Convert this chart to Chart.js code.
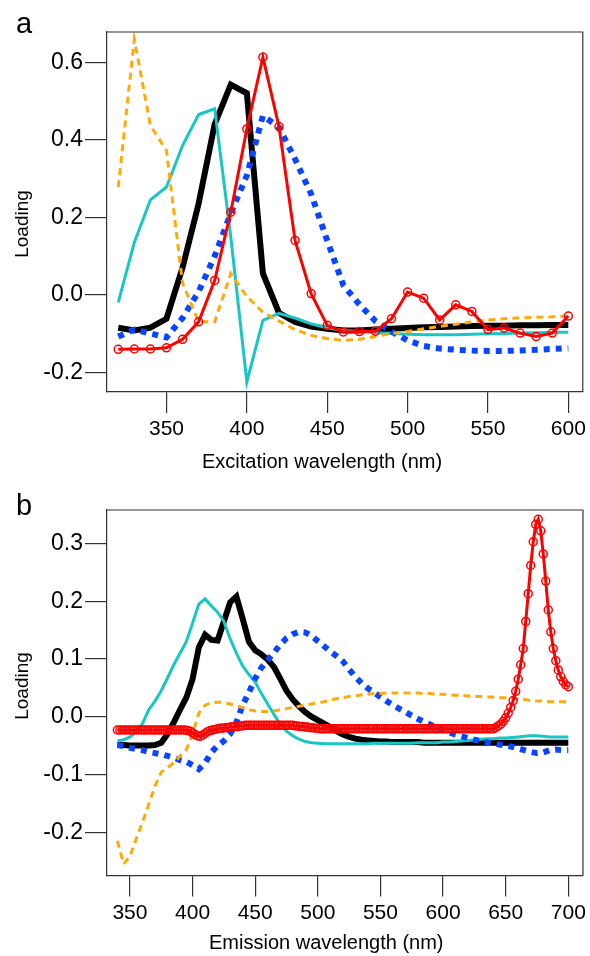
<!DOCTYPE html>
<html>
<head>
<meta charset="utf-8">
<script src="https://cdn.jsdelivr.net/npm/chart.js@4.4.1/dist/chart.umd.min.js"></script>
<style>
  body { margin: 0; background: #fff; }
  #wrap { position: relative; width: 590px; height: 956px; font-family: 'Liberation Sans', Arial, sans-serif; color: #000; }
  #wrap canvas { position: absolute; left: 0; }
  .panel { position: absolute; font-size: 29px; line-height: 29px; }
  .ytitle { position: absolute; font-size: 19px; line-height: 19px; white-space: nowrap; transform: translate(-50%, -50%) rotate(-90deg); }
  .xtitle { position: absolute; font-size: 20px; line-height: 20px; white-space: nowrap; }
</style>
</head>
<body>
<div id="wrap">
  <canvas id="excChart" width="590" height="478" style="top:0"></canvas>
  <canvas id="emChart" width="590" height="478" style="top:478px"></canvas>
  <div class="panel" style="left:16px;top:9px">a</div>
  <div class="panel" style="left:16px;top:491px">b</div>
  <div class="ytitle" style="left:21px;top:224px">Loading</div>
  <div class="ytitle" style="left:21px;top:686px">Loading</div>
  <div class="xtitle" style="left:202px;top:451px">Excitation wavelength (nm)</div>
  <div class="xtitle" style="left:209px;top:932px">Emission wavelength (nm)</div>
</div>
<script>
// ---- excitation loadings (panel a), 10 nm steps ----
const exWavelength = [320, 330, 340, 350, 360, 370, 380, 390, 400, 410,
                      420, 430, 440, 450, 460, 470, 480, 490, 500, 510,
                      520, 530, 540, 550, 560, 570, 580, 590, 600];
const exBlack  = [-0.085, -0.092, -0.085, -0.062, 0.070, 0.235, 0.440, 0.542, 0.520, 0.055,
                  -0.047, -0.070, -0.082, -0.088, -0.092, -0.092, -0.090, -0.088, -0.086, -0.084,
                  -0.083, -0.082, -0.081, -0.080, -0.080, -0.079, -0.079, -0.078, -0.078];
const exCyan   = [-0.020, 0.135, 0.245, 0.278, 0.385, 0.465, 0.480, 0.150, -0.225, -0.066,
                  -0.048, -0.060, -0.075, -0.085, -0.092, -0.095, -0.098, -0.100, -0.102, -0.103,
                  -0.103, -0.103, -0.102, -0.101, -0.100, -0.099, -0.098, -0.097, -0.097];
const exBlue   = [-0.108, -0.090, -0.100, -0.110, -0.060, 0.008, 0.100, 0.210, 0.308, 0.462,
                  0.432, 0.350, 0.260, 0.140, 0.025, -0.025, -0.068, -0.095, -0.118, -0.132,
                  -0.139, -0.142, -0.144, -0.145, -0.145, -0.144, -0.142, -0.140, -0.138];
const exOrange = [0.278, 0.659, 0.437, 0.372, 0.030, -0.070, -0.070, 0.055, -0.005, -0.045,
                  -0.068, -0.090, -0.105, -0.113, -0.118, -0.115, -0.108, -0.100, -0.095, -0.088,
                  -0.082, -0.076, -0.070, -0.065, -0.062, -0.060, -0.058, -0.057, -0.055];
const exRed    = [-0.141, -0.140, -0.140, -0.137, -0.115, -0.070, 0.037, 0.213, 0.428, 0.613,
                  0.434, 0.140, 0.003, -0.079, -0.096, -0.095, -0.094, -0.062, 0.007, -0.009,
                  -0.065, -0.026, -0.043, -0.090, -0.086, -0.099, -0.108, -0.099, -0.055];

// ---- emission loadings (panel b), 5 nm steps ----
const emWavelength = [340, 345, 350, 355, 360, 365, 370, 375, 380, 385,
                      390, 395, 400, 405, 410, 415, 420, 425, 430, 435,
                      440, 445, 450, 455, 460, 465, 470, 475, 480, 485,
                      490, 495, 500, 505, 510, 515, 520, 525, 530, 535,
                      540, 545, 550, 555, 560, 565, 570, 575, 580, 585,
                      590, 595, 600, 605, 610, 615, 620, 625, 630, 635,
                      640, 645, 650, 655, 660, 665, 670, 675, 680, 685,
                      690, 695, 700];
const emBlack  = [-0.049, -0.049, -0.050, -0.050, -0.050, -0.050, -0.049, -0.045, -0.030, -0.010,
                  0.012, 0.033, 0.065, 0.120, 0.142, 0.133, 0.132, 0.165, 0.198, 0.208,
                  0.170, 0.130, 0.115, 0.108, 0.099, 0.086, 0.066, 0.045, 0.030, 0.018,
                  0.008, 0.000, -0.006, -0.012, -0.018, -0.025, -0.031, -0.035, -0.038, -0.040,
                  -0.041, -0.042, -0.043, -0.043, -0.044, -0.044, -0.044, -0.044, -0.044, -0.045,
                  -0.045, -0.045, -0.045, -0.045, -0.045, -0.045, -0.045, -0.045, -0.045, -0.045,
                  -0.045, -0.045, -0.045, -0.045, -0.045, -0.045, -0.045, -0.045, -0.045, -0.045,
                  -0.045, -0.045, -0.045];
const emCyan   = [-0.042, -0.040, -0.035, -0.026, -0.012, 0.012, 0.027, 0.045, 0.067, 0.090,
                  0.110, 0.130, 0.162, 0.195, 0.204, 0.192, 0.181, 0.165, 0.135, 0.110,
                  0.088, 0.073, 0.060, 0.040, 0.022, 0.004, -0.013, -0.025, -0.033, -0.039,
                  -0.043, -0.045, -0.046, -0.047, -0.047, -0.047, -0.047, -0.047, -0.047, -0.047,
                  -0.047, -0.046, -0.046, -0.046, -0.046, -0.046, -0.046, -0.046, -0.045, -0.045,
                  -0.045, -0.045, -0.044, -0.044, -0.043, -0.042, -0.041, -0.040, -0.039, -0.038,
                  -0.038, -0.037, -0.037, -0.036, -0.035, -0.034, -0.033, -0.033, -0.034, -0.035,
                  -0.035, -0.035, -0.035];
const emBlue   = [-0.049, -0.051, -0.054, -0.056, -0.058, -0.061, -0.063, -0.065, -0.068, -0.071,
                  -0.075, -0.078, -0.084, -0.091, -0.080, -0.062, -0.050, -0.042, -0.030, -0.010,
                  0.020, 0.042, 0.066, 0.085, 0.098, 0.111, 0.125, 0.136, 0.143, 0.147,
                  0.146, 0.140, 0.131, 0.122, 0.113, 0.105, 0.096, 0.082, 0.069, 0.058,
                  0.049, 0.042, 0.034, 0.027, 0.020, 0.014, 0.008, 0.002, -0.004, -0.009,
                  -0.014, -0.019, -0.023, -0.027, -0.031, -0.034, -0.037, -0.040, -0.042, -0.044,
                  -0.046, -0.048, -0.050, -0.052, -0.055, -0.058, -0.061, -0.063, -0.062, -0.058,
                  -0.057, -0.058, -0.058];
const emOrange = [-0.215, -0.255, -0.242, -0.212, -0.183, -0.152, -0.120, -0.096, -0.088, -0.080,
                  -0.068, -0.057, -0.030, 0.006, 0.020, 0.024, 0.025, 0.025, 0.022, 0.019,
                  0.016, 0.012, 0.010, 0.009, 0.009, 0.010, 0.012, 0.014, 0.016, 0.018,
                  0.020, 0.022, 0.024, 0.026, 0.029, 0.031, 0.033, 0.035, 0.036, 0.038,
                  0.039, 0.040, 0.040, 0.041, 0.041, 0.041, 0.041, 0.041, 0.041, 0.040,
                  0.040, 0.039, 0.039, 0.038, 0.037, 0.037, 0.036, 0.035, 0.035, 0.034,
                  0.034, 0.033, 0.033, 0.032, 0.031, 0.030, 0.028, 0.027, 0.027, 0.026,
                  0.026, 0.026, 0.026];

// red component is sampled every 2 nm (markers on every sample)
const emRedWavelength = [340, 342, 344, 346, 348, 350, 352, 354, 356, 358,
                         360, 362, 364, 366, 368, 370, 372, 374, 376, 378,
                         380, 382, 384, 386, 388, 390, 392, 394, 396, 398,
                         400, 402, 404, 406, 408, 410, 412, 414, 416, 418,
                         420, 422, 424, 426, 428, 430, 432, 434, 436, 438,
                         440, 442, 444, 446, 448, 450, 452, 454, 456, 458,
                         460, 462, 464, 466, 468, 470, 472, 474, 476, 478,
                         480, 482, 484, 486, 488, 490, 492, 494, 496, 498,
                         500, 502, 504, 506, 508, 510, 512, 514, 516, 518,
                         520, 522, 524, 526, 528, 530, 532, 534, 536, 538,
                         540, 542, 544, 546, 548, 550, 552, 554, 556, 558,
                         560, 562, 564, 566, 568, 570, 572, 574, 576, 578,
                         580, 582, 584, 586, 588, 590, 592, 594, 596, 598,
                         600, 602, 604, 606, 608, 610, 612, 614, 616, 618,
                         620, 622, 624, 626, 628, 630, 632, 634, 636, 638,
                         640, 642, 644, 646, 648, 650, 652, 654, 656, 658,
                         660, 662, 664, 666, 668, 670, 672, 674, 676, 678,
                         680, 682, 684, 686, 688, 690, 692, 694, 696, 698,
                         700];
const emRed = [-0.023, -0.023, -0.023, -0.023, -0.023, -0.023, -0.023, -0.023, -0.023, -0.023,
               -0.023, -0.023, -0.023, -0.023, -0.023, -0.023, -0.023, -0.023, -0.023, -0.023,
               -0.023, -0.023, -0.023, -0.023, -0.023, -0.023, -0.023, -0.023, -0.024, -0.025,
               -0.028, -0.031, -0.033, -0.034, -0.032, -0.029, -0.026, -0.024, -0.023, -0.022,
               -0.021, -0.020, -0.020, -0.019, -0.019, -0.018, -0.018, -0.017, -0.017, -0.016,
               -0.016, -0.015, -0.015, -0.015, -0.015, -0.015, -0.015, -0.015, -0.015, -0.015,
               -0.015, -0.015, -0.015, -0.015, -0.015, -0.015, -0.015, -0.015, -0.015, -0.015,
               -0.015, -0.016, -0.016, -0.017, -0.017, -0.018, -0.018, -0.019, -0.019, -0.020,
               -0.020, -0.021, -0.021, -0.021, -0.021, -0.021, -0.021, -0.021, -0.021, -0.021,
               -0.021, -0.021, -0.021, -0.021, -0.021, -0.021, -0.021, -0.021, -0.021, -0.021,
               -0.021, -0.021, -0.021, -0.021, -0.021, -0.021, -0.021, -0.021, -0.021, -0.021,
               -0.021, -0.021, -0.021, -0.021, -0.021, -0.021, -0.021, -0.021, -0.021, -0.021,
               -0.021, -0.021, -0.021, -0.021, -0.021, -0.021, -0.021, -0.021, -0.021, -0.021,
               -0.021, -0.021, -0.021, -0.021, -0.021, -0.021, -0.021, -0.021, -0.021, -0.021,
               -0.021, -0.021, -0.021, -0.021, -0.021, -0.021, -0.021, -0.021, -0.021, -0.021,
               -0.021, -0.019, -0.016, -0.013, -0.008, -0.002, 0.006, 0.016, 0.028, 0.044,
               0.065, 0.090, 0.118, 0.165, 0.213, 0.262, 0.303, 0.333, 0.342, 0.322,
               0.282, 0.235, 0.185, 0.147, 0.118, 0.097, 0.081, 0.069, 0.061, 0.055,
               0.052];

// tick positions
const exTicksX = [350, 400, 450, 500, 550, 600];
const exTicksY = [-0.2, 0.0, 0.2, 0.4, 0.6];
const emTicksX = [350, 400, 450, 500, 550, 600, 650, 700];
const emTicksY = [-0.2, -0.1, 0.0, 0.1, 0.2, 0.3];

const FONT = "'Liberation Sans', Arial, sans-serif";
const AXIS_COLOR = '#333';
const C_BLACK = '#000000';
const C_CYAN = '#19C6C6';
const C_BLUE = '#0A46FF';
const C_ORANGE = '#FFA90A';
const C_RED = '#FF0000';

function xy(xs, ys) {
    return xs.map((x, i) => ({ x: x, y: ys[i] }));
}

// draws the top and right sides of the plot box
const boxFrame = {
    id: 'boxFrame',
    afterDatasetsDraw(chart) {
        const { ctx, chartArea: a } = chart;
        ctx.save();
        ctx.strokeStyle = AXIS_COLOR;
        ctx.lineWidth = 1.2;
        ctx.beginPath();
        ctx.moveTo(a.left, a.top);
        ctx.lineTo(a.right, a.top);
        ctx.lineTo(a.right, a.bottom);
        ctx.stroke();
        ctx.restore();
    }
};

function buildDatasets(xs, black, cyan, blue, orange, redXs, red) {
    return [
        { data: xy(redXs, red), borderColor: C_RED, borderWidth: 3, pointRadius: 4,
          pointBorderWidth: 1.5, pointBackgroundColor: 'rgba(0,0,0,0)', pointBorderColor: C_RED, order: 0 },
        { data: xy(xs, orange), borderColor: C_ORANGE, borderWidth: 3, borderDash: [7, 5], pointRadius: 0, order: 1 },
        { data: xy(xs, blue), borderColor: C_BLUE, borderWidth: 6, borderDash: [6, 6], pointRadius: 0, order: 2 },
        { data: xy(xs, cyan), borderColor: C_CYAN, borderWidth: 3, pointRadius: 0, order: 3 },
        { data: xy(xs, black), borderColor: C_BLACK, borderWidth: 6, pointRadius: 0, order: 4 }
    ];
}

function buildOptions(cfg) {
    return {
        responsive: false,
        animation: false,
        devicePixelRatio: 1,
        layout: { padding: { top: cfg.padTop, right: 5, left: 0, bottom: 0 } },
        plugins: { legend: { display: false }, tooltip: { enabled: false } },
        elements: { line: { tension: 0, borderCapStyle: 'butt', borderJoinStyle: 'miter' } },
        scales: {
            x: {
                type: 'linear',
                min: cfg.xMin,
                max: cfg.xMax,
                afterBuildTicks: s => { s.ticks = cfg.xTicks.map(v => ({ value: v })); },
                afterFit: s => { s.height = cfg.xAxisHeight; },
                grid: { drawOnChartArea: false, drawTicks: true, tickLength: 21, color: AXIS_COLOR, lineWidth: 1.2 },
                border: { display: true, color: AXIS_COLOR, width: 1.2 },
                ticks: { color: '#000', padding: 4, maxRotation: 0, font: { family: FONT, size: 21 },
                         callback: v => String(v) },
                title: { display: false }
            },
            y: {
                min: cfg.yMin,
                max: cfg.yMax,
                afterBuildTicks: s => { s.ticks = cfg.yTicks.map(v => ({ value: v })); },
                afterFit: s => { s.width = 107; },
                grid: { drawOnChartArea: false, drawTicks: true, tickLength: 22, color: AXIS_COLOR, lineWidth: 1.2 },
                border: { display: true, color: AXIS_COLOR, width: 1.2 },
                ticks: { color: '#000', padding: 2, font: { family: FONT, size: 23 },
                         callback: v => v.toFixed(1) }
            }
        }
    };
}

new Chart(document.getElementById('excChart'), {
    type: 'line',
    data: { datasets: buildDatasets(exWavelength, exBlack, exCyan, exBlue, exOrange, exWavelength, exRed) },
    options: buildOptions({
        xMin: 313, xMax: 609, yMin: -0.251, yMax: 0.678,
        xTicks: exTicksX, yTicks: exTicksY,
        padTop: 32, xAxisHeight: 86
    }),
    plugins: [boxFrame]
});

new Chart(document.getElementById('emChart'), {
    type: 'line',
    data: { datasets: buildDatasets(emWavelength, emBlack, emCyan, emBlue, emOrange, emRedWavelength, emRed) },
    options: buildOptions({
        xMin: 331.7, xMax: 711.7, yMin: -0.275, yMax: 0.358,
        xTicks: emTicksX, yTicks: emTicksY,
        padTop: 32, xAxisHeight: 80.5
    }),
    plugins: [boxFrame]
});
</script>
</body>
</html>
